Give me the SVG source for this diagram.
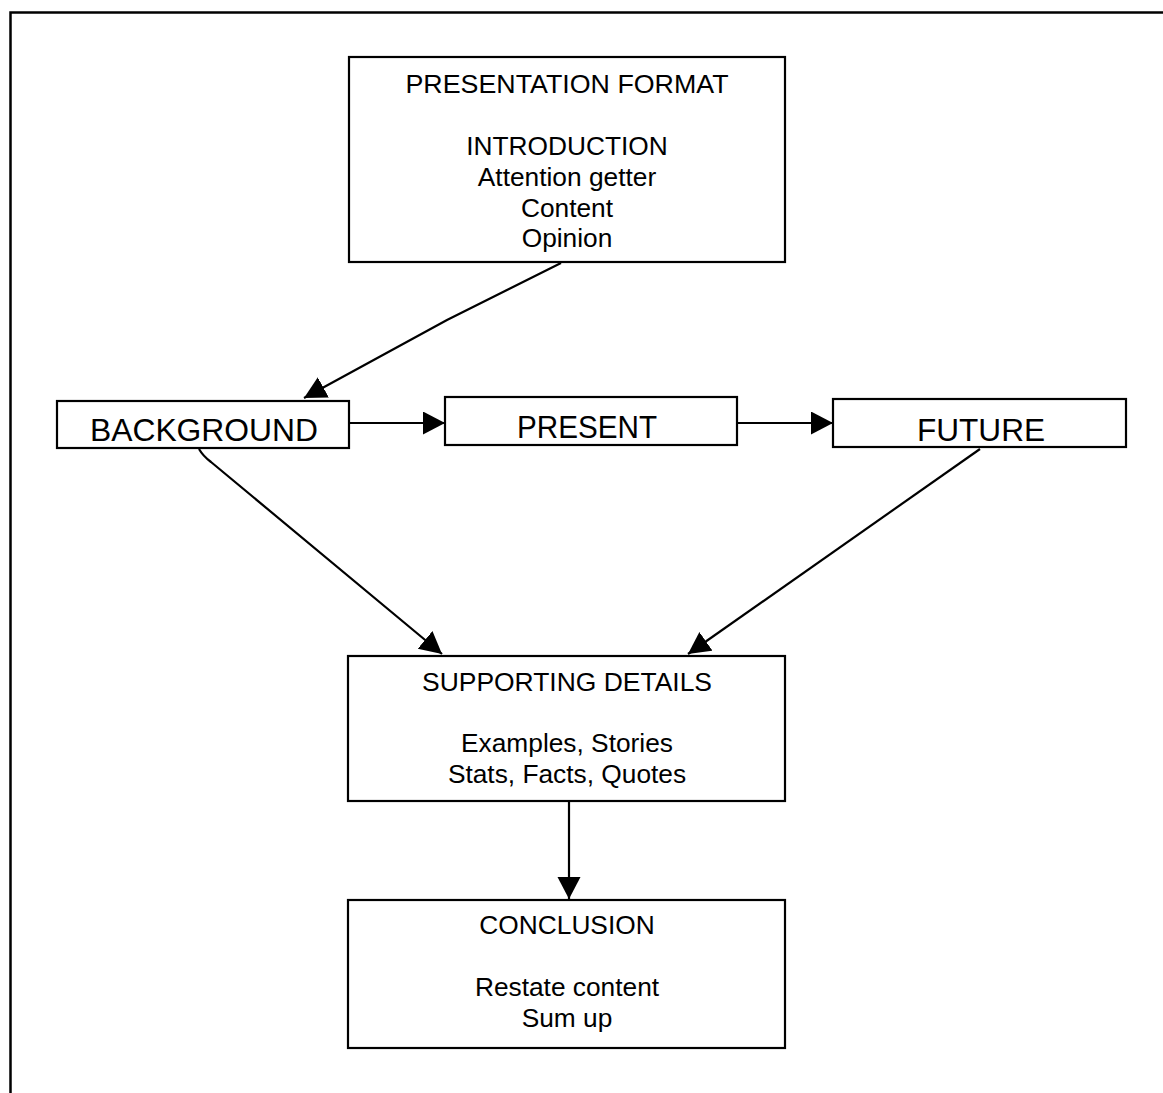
<svg xmlns="http://www.w3.org/2000/svg" width="1163" height="1093" viewBox="0 0 1163 1093">
  <style>
    .box { fill: #ffffff; stroke: #000000; stroke-width: 2.2; }
    .frame { fill: none; stroke: #000000; stroke-width: 2.5; }
    .edge { fill: none; stroke: #000000; stroke-width: 2.2; }
    .t { font-family: "Liberation Sans", Arial, sans-serif; font-size: 26.3px; fill: #000000; text-anchor: middle; }
    .big { font-family: "Liberation Sans", Arial, sans-serif; font-size: 31px; fill: #000000; text-anchor: middle; }
  </style>
  <defs>
    <marker id="arrow" markerUnits="userSpaceOnUse" markerWidth="24" markerHeight="24" refX="22" refY="11.5" orient="auto">
      <path d="M0,0 L22,11.5 L0,23 z" fill="#000000"/>
    </marker>
  </defs>

  <rect width="1163" height="1093" fill="#ffffff"/>

  <!-- page frame: top and left rules -->
  <path class="frame" d="M10.5,1093 L10.5,12.5 L1163,12.5"/>

  <!-- connectors -->
  <g id="connectors">
    <path class="edge" d="M561,263 L447,320 L304,398" marker-end="url(#arrow)"/>
    <path class="edge" d="M349,423 L445,423" marker-end="url(#arrow)"/>
    <path class="edge" d="M737,423 L833,423" marker-end="url(#arrow)"/>
    <path class="edge" d="M199,449 Q203,456 211,462 L442,654" marker-end="url(#arrow)"/>
    <path class="edge" d="M980,449 L688,654" marker-end="url(#arrow)"/>
    <path class="edge" d="M569,802 L569,899" marker-end="url(#arrow)"/>
  </g>

  <!-- introduction -->
  <g id="node-intro">
    <rect class="box" x="349" y="57" width="436" height="205"/>
    <text class="t" x="567" y="93" textLength="323" lengthAdjust="spacingAndGlyphs">PRESENTATION FORMAT</text>
    <text class="t" x="567" y="155">INTRODUCTION</text>
    <text class="t" x="567" y="186">Attention getter</text>
    <text class="t" x="567" y="217">Content</text>
    <text class="t" x="567" y="247">Opinion</text>
  </g>

  <!-- background -->
  <g id="node-background">
    <rect class="box" x="57" y="401" width="292" height="47"/>
    <text class="big" x="204" y="441" textLength="228" lengthAdjust="spacingAndGlyphs">BACKGROUND</text>
  </g>

  <!-- present -->
  <g id="node-present">
    <rect class="box" x="445" y="397" width="292" height="48"/>
    <text class="big" x="587" y="438" textLength="140" lengthAdjust="spacingAndGlyphs">PRESENT</text>
  </g>

  <!-- future -->
  <g id="node-future">
    <rect class="box" x="833" y="399" width="293" height="48"/>
    <text class="big" x="981" y="441" textLength="128" lengthAdjust="spacingAndGlyphs">FUTURE</text>
  </g>

  <!-- supporting details -->
  <g id="node-supporting">
    <rect class="box" x="348" y="656" width="437" height="145"/>
    <text class="t" x="567" y="691" textLength="290" lengthAdjust="spacingAndGlyphs">SUPPORTING DETAILS</text>
    <text class="t" x="567" y="752">Examples, Stories</text>
    <text class="t" x="567" y="783">Stats, Facts, Quotes</text>
  </g>

  <!-- conclusion -->
  <g id="node-conclusion">
    <rect class="box" x="348" y="900" width="437" height="148"/>
    <text class="t" x="567" y="934">CONCLUSION</text>
    <text class="t" x="567" y="996">Restate content</text>
    <text class="t" x="567" y="1027">Sum up</text>
  </g>
</svg>
